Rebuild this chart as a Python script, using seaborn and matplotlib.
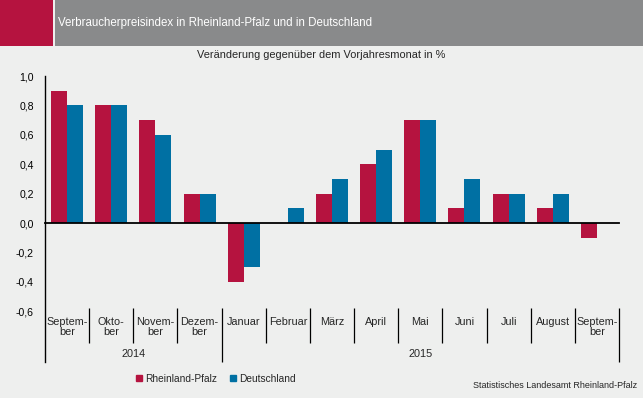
import matplotlib.pyplot as plt
import seaborn as sns
import pandas as pd
from matplotlib.patches import Rectangle
from matplotlib.lines import Line2D

# Data
months = ["Sep 2014", "Okt 2014", "Nov 2014", "Dez 2014", "Jan 2015", "Feb 2015", "Mär 2015",
          "Apr 2015", "Mai 2015", "Jun 2015", "Jul 2015", "Aug 2015", "Sep 2015"]
month_labels = ["Septem-\nber", "Okto-\nber", "Novem-\nber", "Dezem-\nber", "Januar", "Februar", "März",
                "April", "Mai", "Juni", "Juli", "August", "Septem-\nber"]
years = ["2014", "2015"]
year_counts = [4, 9]
rlp = [0.9, 0.8, 0.7, 0.2, -0.4, 0.0, 0.2, 0.4, 0.7, 0.1, 0.2, 0.1, -0.1]
de = [0.8, 0.8, 0.6, 0.2, -0.3, 0.1, 0.3, 0.5, 0.7, 0.3, 0.2, 0.2, 0.0]
series = ["Rheinland-Pfalz", "Deutschland"]
y_ticks = [-0.6, -0.4, -0.2, 0.0, 0.2, 0.4, 0.6, 0.8, 1.0]
y_tick_labels = ["-0,6", "-0,4", "-0,2", "0,0", "0,2", "0,4", "0,6", "0,8", "1,0"]

df = pd.DataFrame({
    "Monat": months * 2,
    "Wert": rlp + de,
    "Region": [series[0]] * len(months) + [series[1]] * len(months),
})

# Style
bg = "#EEEFEE"
red = "#B5133F"
blue = "#0070A3"
sns.set_style("white")
plt.rcParams["font.family"] = ["Liberation Sans", "DejaVu Sans"]

W, H = 643, 398
fig = plt.figure(figsize=(W / 100, H / 100), dpi=100, facecolor=bg)
ax = fig.add_axes([45 / W, 36 / H, 574 / W, 286 / H], facecolor=bg)

sns.barplot(data=df, x="Monat", y="Wert", hue="Region", order=months, hue_order=series,
            palette=[red, blue], width=0.724, saturation=1, legend=False,
            linewidth=0, edgecolor="none", ax=ax)

y_bottom = 1.0 - 286 / 147
ax.set_ylim(y_bottom, 1.0)
ax.set_xlim(-0.5, len(months) - 0.5)
ax.set_xlabel("")
ax.set_ylabel("")

# axes / spines
for s in ["top", "right"]:
    ax.spines[s].set_visible(False)
ax.spines["left"].set_color("black")
ax.spines["left"].set_linewidth(1.0)
ax.spines["bottom"].set_position(("data", 0))
ax.spines["bottom"].set_color("black")
ax.spines["bottom"].set_linewidth(1.3)

ax.set_yticks(y_ticks)
ax.set_yticklabels(y_tick_labels)
ax.tick_params(axis="y", direction="out", length=3.5, width=1.2, pad=4.5, labelsize=7.6, colors="black")
bounds = [i + 0.5 for i in range(len(months))]
ax.set_xticks(bounds)
ax.set_xticklabels([""] * len(bounds))
ax.tick_params(axis="x", direction="inout", length=4.5, width=1.0, colors="black")

# category labels and separators below the plot
for i, lab in enumerate(month_labels):
    ax.text(i, -0.638, lab, ha="center", va="top", fontsize=7.8, linespacing=1.05)
year_ends = [sum(year_counts[:k + 1]) - 0.5 for k in range(len(year_counts))]
for b in bounds:
    low = y_bottom if b in year_ends else -0.816
    ax.vlines(b, low, -0.578, color="black", linewidth=0.9, clip_on=False)
start = -0.5
for yr, end in zip(years, year_ends):
    ax.text((start + end) / 2, -0.891, yr, ha="center", va="center", fontsize=7.8)
    start = end

# header
fig.patches.append(Rectangle((0, 1 - 46 / H), 53 / W, 46 / H, transform=fig.transFigure,
                             facecolor="#B5133F", edgecolor="none"))
fig.patches.append(Rectangle((55 / W, 1 - 46 / H), 1 - 55 / W, 46 / H, transform=fig.transFigure,
                             facecolor="#898A8B", edgecolor="none"))
fig.text(58 / W, 1 - 23 / H, "Verbraucherpreisindex in Rheinland-Pfalz und in Deutschland",
         color="white", fontsize=8.3, va="center", ha="left")
fig.text(0.5, 1 - 55 / H, "Veränderung gegenüber dem Vorjahresmonat in %",
         fontsize=7.9, va="center", ha="center")

# legend
handles = [Line2D([], [], marker="s", linestyle="none", color=c, markersize=3.8) for c in [red, blue]]
fig.legend(handles, series, loc="center", bbox_to_anchor=(215 / W, 1 - 379 / H), ncol=2,
           frameon=False, fontsize=7.3, handletextpad=0.1, columnspacing=1.1, handlelength=1.0,
           borderpad=0)

# source
fig.text(637 / W, 1 - 386 / H, "Statistisches Landesamt Rheinland-Pfalz", fontsize=6.5,
         ha="right", va="center")

fig.savefig("out.png", dpi=100, facecolor=bg)
